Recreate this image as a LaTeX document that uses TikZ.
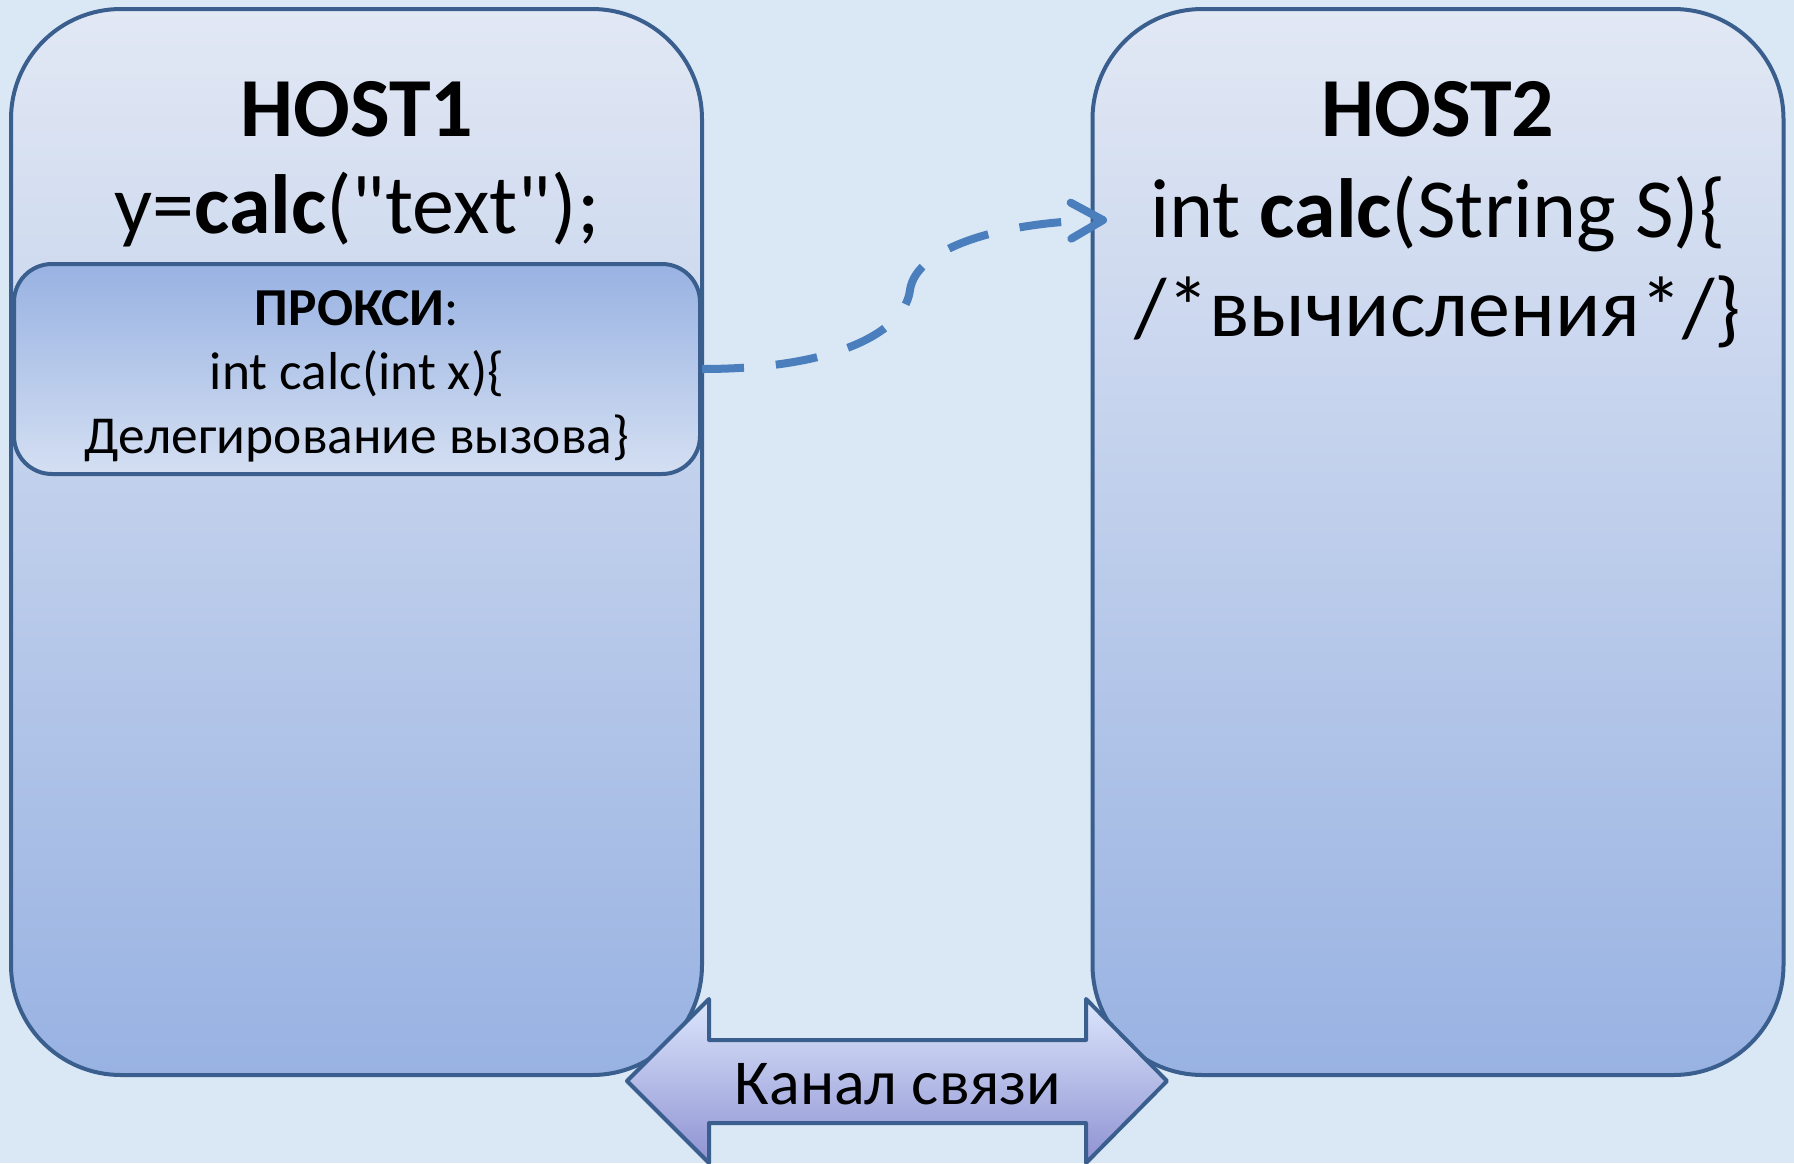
\documentclass[tikz,border=0pt]{standalone}
\usepackage{fontspec}
\setmainfont{Carlito}
\usetikzlibrary{arrows.meta}

\definecolor{bgblue}{HTML}{DAE8F5}
\definecolor{edgeblue}{HTML}{3A5F8E}
\definecolor{hosttop}{HTML}{E2E8F4}
\definecolor{hostbot}{HTML}{98B2E2}
\definecolor{proxytop}{HTML}{98B2E2}
\definecolor{proxybot}{HTML}{D4DFF2}
\definecolor{linkblue}{HTML}{4A7EBC}
\definecolor{chantop}{HTML}{DCE6FC}
\definecolor{chanmid}{HTML}{C9D4F4}
\definecolor{chanbot}{HTML}{8F92D2}

\begin{document}
\begin{tikzpicture}[
        x=0.5pt, y=-0.5pt,
        hostbox/.style={draw=edgeblue, line width=2pt, rounded corners=55pt,
            top color=hosttop, bottom color=hostbot, inner sep=0pt,
            minimum width=345.5pt, minimum height=533pt},
        proxybox/.style={draw=edgeblue, line width=2pt, rounded corners=19pt,
            top color=proxytop, bottom color=proxybot, inner sep=0pt,
            minimum width=343pt, minimum height=105pt},
        bigtxt/.style={font=\fontsize{42}{49.5}\selectfont, align=center, inner sep=0pt},
        proxytxt/.style={font=\fontsize{26.7}{32}\selectfont, align=center, inner sep=0pt},
        chantxt/.style={font=\fontsize{32}{38}\selectfont, inner sep=0pt},
        link/.style={draw=linkblue, line width=4pt, dash pattern=on 21pt off 16pt,
            -{Straight Barb[round, length=16pt, width=18pt]}},
        chanarrow/.style={draw=edgeblue, line width=2pt, line join=round,
            top color=chantop, middle color=chanmid, bottom color=chanbot}
    ]
        \useasboundingbox (0,0) rectangle (1794,1163);
        \clip (0,0) rectangle (1794,1163);
        \fill[bgblue] (0,0) rectangle (1794,1163);

        % hosts
        \node[hostbox] (host1) at (356.5,542) {};
        \node[hostbox] (host2) at (1438,542) {};

        \node[bigtxt, font=\fontsize{42}{49.5}\selectfont\bfseries] (h1title) at (357,109) {HOST1};
        \node[bigtxt] (h1call) at (357,210) {y=\textbf{calc}(\textquotedbl text\textquotedbl);};

        \node[bigtxt, font=\fontsize{42}{49.5}\selectfont\bfseries] (h2title) at (1438,109) {HOST2};
        \node[bigtxt] (h2code) at (1438,262) {int \textbf{calc}(String S)\{\\/*вычисления*/\}};

        % proxy
        \node[proxybox] (proxy) at (357,369) {};
        \node[proxytxt] (proxytext) at (357,376)
            {\textbf{ПРОКСИ}:\\int calc(int x)\{\\Делегирование вызова\}};

        % call
        \coordinate (tip) at (1107,220);
        \draw[link] (proxy.east) .. controls (840,369) and (905,330) .. (910,290)
            .. controls (916,248) and (1000,222) .. (tip);

        % channel
        \draw[chanarrow] (627,1081) -- (709,999) -- (709,1040) -- (1086,1040)
            -- (1086,999) -- (1167,1081) -- (1086,1163) -- (1086,1123)
            -- (709,1123) -- (709,1163) -- cycle;
        \node[chantxt] (chan) at (898,1084) {Канал связи};
\end{tikzpicture}
\end{document}
